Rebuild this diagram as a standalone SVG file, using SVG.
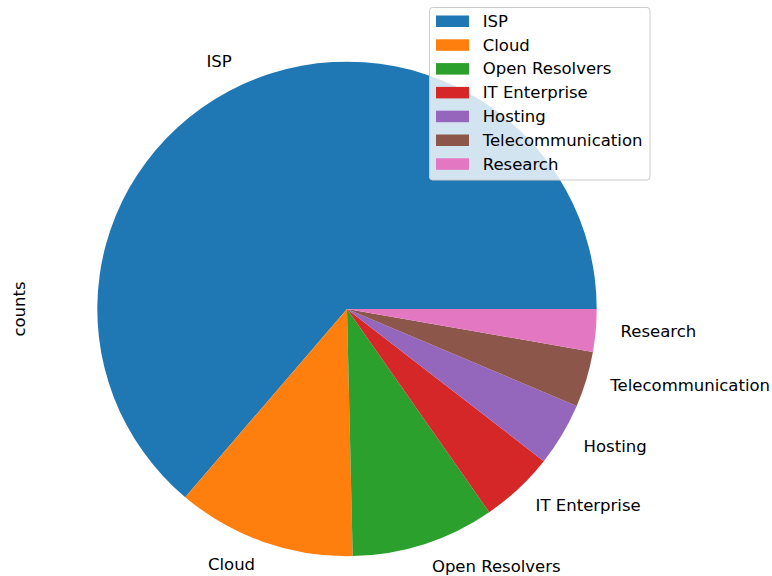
<svg xmlns="http://www.w3.org/2000/svg" width="772" height="576" viewBox="0 0 772 576">
  <style>
    text { font-family: "DejaVu Sans", "Liberation Sans", sans-serif; font-size: 16.5px; fill: #000; }
    .end { text-anchor: end; }
    .legend-frame { fill: #fff; fill-opacity: 0.8; stroke: #cccccc; stroke-width: 1; }
  </style>
  <rect width="772" height="576" fill="#fff"/>

  <!-- y-axis label -->
  <text transform="translate(25 309) rotate(-90)" text-anchor="middle">counts</text>

  <!-- wedges, counter-clockwise from 3 o'clock -->
  <g id="wedges">
    <g id="isp"><path d="M347 309 L596.7 309 A249.7 247.2 0 1 0 185.2 497.2 Z" fill="#1f77b4"/></g>
    <g id="cloud"><path d="M347 309 L185.2 497.2 A249.7 247.2 0 0 0 352.7 556.1 Z" fill="#ff7f0e"/></g>
    <g id="open-resolvers"><path d="M347 309 L352.7 556.1 A249.7 247.2 0 0 0 489.2 512.2 Z" fill="#2ca02c"/></g>
    <g id="it-enterprise"><path d="M347 309 L489.2 512.2 A249.7 247.2 0 0 0 543.8 461.2 Z" fill="#d62728"/></g>
    <g id="hosting"><path d="M347 309 L543.8 461.2 A249.7 247.2 0 0 0 576.7 406.0 Z" fill="#9467bd"/></g>
    <g id="telecommunication"><path d="M347 309 L576.7 406.0 A249.7 247.2 0 0 0 592.9 351.9 Z" fill="#8c564b"/></g>
    <g id="research"><path d="M347 309 L592.9 351.9 A249.7 247.2 0 0 0 596.7 309 Z" fill="#e377c2"/></g>
  </g>

  <!-- wedge labels -->
  <g id="wedge-labels">
    <text class="end" x="231.8" y="66.8">ISP</text>
    <text class="end" x="255.1" y="570">Cloud</text>
    <text x="431.9" y="572.3">Open Resolvers</text>
    <text x="535.6" y="511.4">IT Enterprise</text>
    <text x="583.6" y="451.9">Hosting</text>
    <text x="610.3" y="391.2">Telecommunication</text>
    <text x="620.6" y="337.4">Research</text>
  </g>

  <!-- legend -->
  <g id="legend">
    <rect class="legend-frame" x="429.5" y="7.5" width="220.5" height="172.5" rx="3"/>
    <rect x="436" y="15.5" width="33" height="11.5" fill="#1f77b4"/>
    <text x="482.7" y="26.8">ISP</text>
    <rect x="436" y="39.3" width="33" height="11.5" fill="#ff7f0e"/>
    <text x="482.7" y="50.6">Cloud</text>
    <rect x="436" y="63.1" width="33" height="11.5" fill="#2ca02c"/>
    <text x="482.7" y="74.4">Open Resolvers</text>
    <rect x="436" y="86.9" width="33" height="11.5" fill="#d62728"/>
    <text x="482.7" y="98.2">IT Enterprise</text>
    <rect x="436" y="110.7" width="33" height="11.5" fill="#9467bd"/>
    <text x="482.7" y="122">Hosting</text>
    <rect x="436" y="134.5" width="33" height="11.5" fill="#8c564b"/>
    <text x="482.7" y="145.8">Telecommunication</text>
    <rect x="436" y="158.3" width="33" height="11.5" fill="#e377c2"/>
    <text x="482.7" y="169.6">Research</text>
  </g>
</svg>
